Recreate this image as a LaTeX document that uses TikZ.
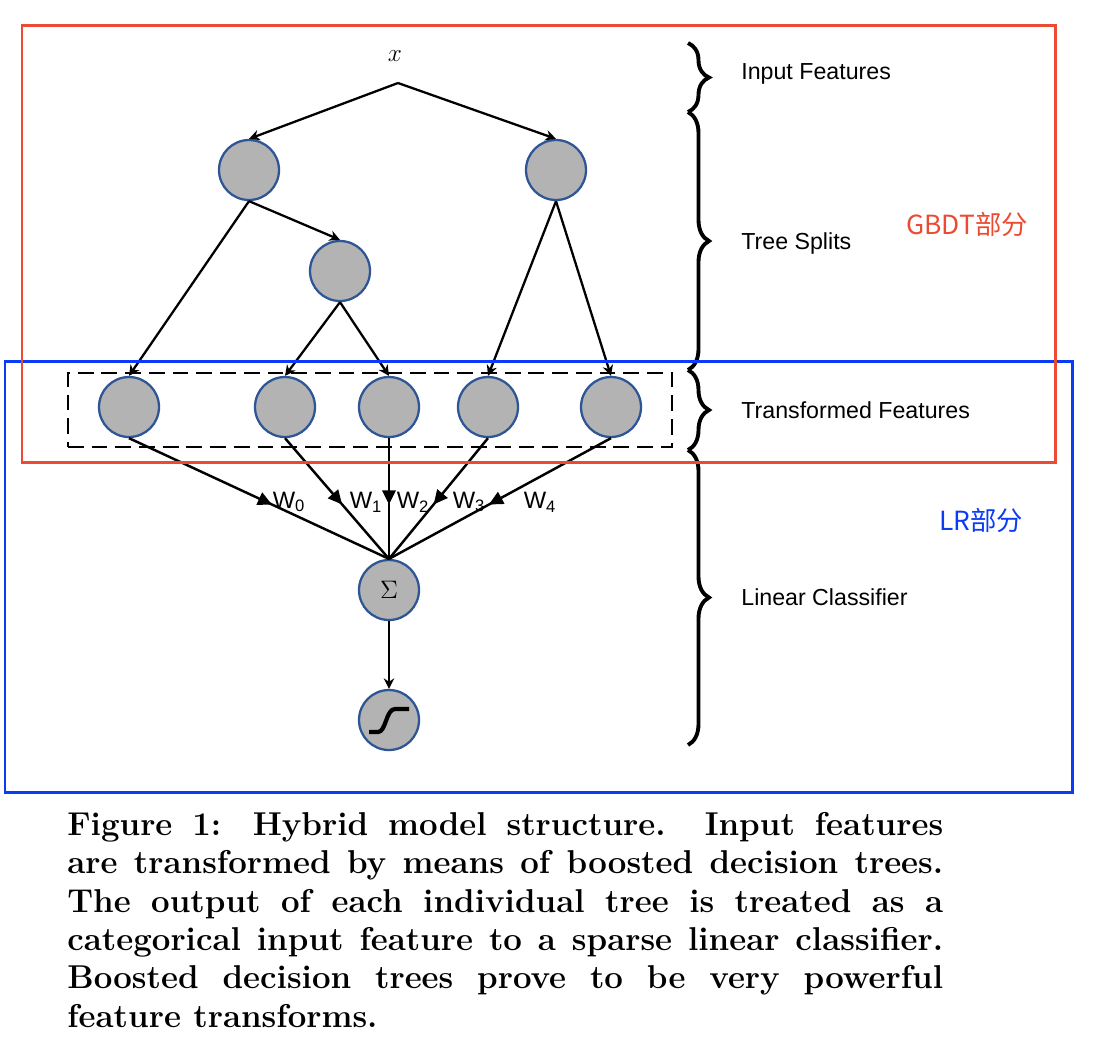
\documentclass[tikz,border=0pt]{standalone}
\usepackage{fontspec}
\setsansfont{Liberation Sans}
\newfontfamily\cjk{Noto Sans CJK SC}
\usetikzlibrary{positioning, arrows.meta, fit, decorations.pathreplacing,
decorations.markings}
\definecolor{nodefill}{RGB}{179,179,179}
\definecolor{nodeline}{RGB}{46,85,150}
\definecolor{gbdtred}{RGB}{235,75,51}
\definecolor{lrblue}{RGB}{10,60,245}

\begin{document}
\begin{tikzpicture}[x=0.02cm, y=-0.02cm,
  unit/.style={circle, draw=nodeline, fill=nodefill, line width=1.3pt,
               minimum size=1.2cm, inner sep=0pt},
  ar/.style={-{Stealth[length=6pt, width=6pt]}, line width=1.3pt},
  warr/.style={line width=1.4pt, postaction={decorate},
               decoration={markings, mark=at position 0.55 with
               {\arrow{Triangle[length=8pt, width=7.5pt]}}}},
  brc/.style={decorate, decoration={brace, amplitude=0.42cm}, line width=2.2pt},
  side/.style={anchor=west, inner sep=0pt,
               font=\sffamily\fontsize{13.2}{15}\selectfont},
  wlab/.style={font=\sffamily\fontsize{13.5}{15}\selectfont, inner sep=0pt},
  dashbox/.style={draw, line width=1.5pt, dash pattern=on 9pt off 4.5pt},
  part/.style={font=\cjk\fontsize{15}{18}\selectfont},
  caption/.style={font=\fontsize{18.8}{21.8}\selectfont\bfseries,
                  text width=17.52cm, align=justify, inner sep=0pt},
]
\useasboundingbox (0,0) rectangle (1094,1046);

% tree part
\node[font=\fontsize{15}{17}\selectfont] (xin) at (395,56) {$x$};
\coordinate (root) at (398,83);
\node[unit] (a1) at (249,170) {};
\node[unit] (a2) at (556,170) {};
\node[unit] (b)  at (340,271) {};

\node[unit] (l0) at (129,407) {};
\node[unit] (l1) at (285,407) {};
\node[unit] (l2) at (389,407) {};
\node[unit] (l3) at (488,407) {};
\node[unit] (l4) at (611,407) {};
\node[dashbox, fit=(l0)(l4), inner xsep=0.6cm, inner ysep=0.12cm,
      yshift=-0.06cm] (tf) {};

\node[unit, font=\fontsize{15}{17}\selectfont] (sum) at (389,590) {$\Sigma$};
\node[unit] (sig) at (389,720) {};

\draw[ar] (root) -- (a1.north);
\draw[ar] (root) -- (a2.north);
\draw[ar] (a1.south) -- (l0.north);
\draw[ar] (a1.south) -- (b.north);
\draw[ar] (b.south)  -- (l1.north);
\draw[ar] (b.south)  -- (l2.north);
\draw[ar] (a2.south) -- (l3.north);
\draw[ar] (a2.south) -- (l4.north);

% weights into the sum
\draw[warr] (l0.south) -- (sum.north);
\draw[warr] (l1.south) -- (sum.north);
\draw[warr] (l2.south) -- (sum.north);
\draw[warr] (l3.south) -- (sum.north);
\draw[warr] (l4.south) -- (sum.north);
\node[wlab] (w0) at (289,502) {W\textsubscript{0}};
\node[wlab] (w1) at (366,502) {W\textsubscript{1}};
\node[wlab] (w2) at (413,502) {W\textsubscript{2}};
\node[wlab] (w3) at (469,502) {W\textsubscript{3}};
\node[wlab] (w4) at (540,502) {W\textsubscript{4}};

\draw[ar] (sum.south) -- (sig.north);
\begin{scope}[shift={(sig.center)}]
  \draw[line width=2.4pt] (-20,12) -- (-11,12)
    .. controls (-3,12) and (-3,-11) .. (6,-11) -- (20,-11);
\end{scope}

% braces and their labels
\draw[brc] (688,43)  -- (688,112);
\draw[brc] (688,112) -- (688,370);
\draw[brc] (688,370) -- (688,450);
\draw[brc] (688,450) -- (688,745);
\node[side] (in)  at (741,74)  {Input Features};
\node[side] (ts)  at (741,243) {Tree Splits};
\node[side] (tfl) at (741,410) {Transformed Features};
\node[side] (lc)  at (741,597) {Linear Classifier};

% the two parts
\draw[lrblue, line width=1.7pt] (5,361) rectangle (1072,792);
\draw[gbdtred, line width=1.7pt] (22,25) rectangle (1055,462);
\node[part, text=gbdtred] (gbdt) at (967,224) {GBDT部分};
\node[part, text=lrblue] (lr) at (981,520) {LR部分};

\node[caption, anchor=north west] (cap) at (67,812)
  {Figure 1: Hybrid model structure.  Input features\linebreak
   are transformed by means of boosted decision trees.\linebreak
   The output of each individual tree is treated as a\linebreak
   categorical input feature to a sparse linear classifier.\linebreak
   Boosted decision trees prove to be very powerful\linebreak
   feature transforms.};
\end{tikzpicture}
\end{document}
